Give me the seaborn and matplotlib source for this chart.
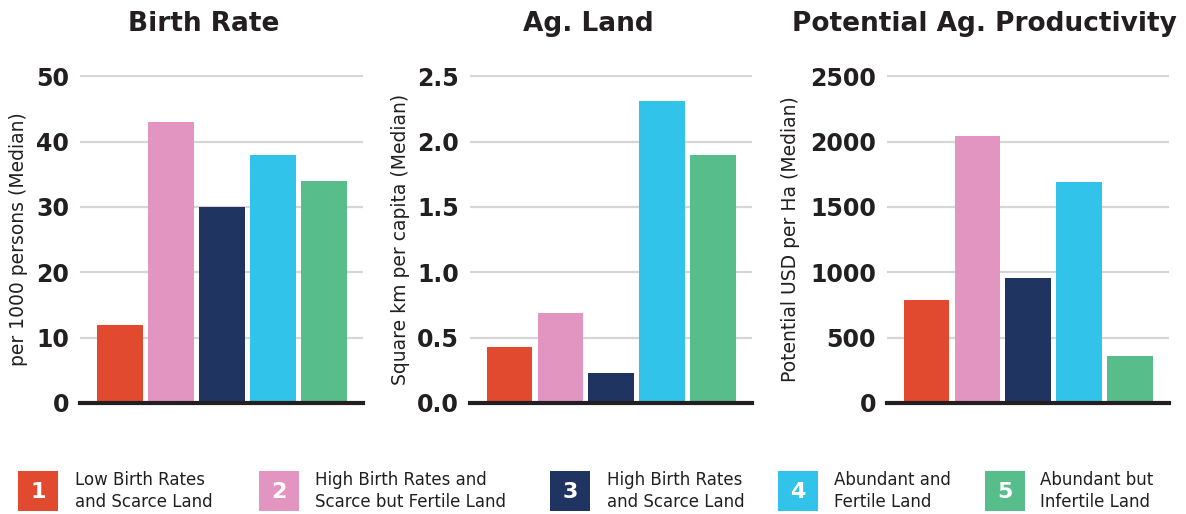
import matplotlib
matplotlib.use("Agg")
import matplotlib.pyplot as plt
import seaborn as sns
import pandas as pd
from matplotlib.patches import Rectangle

groups = ["1", "2", "3", "4", "5"]
group_labels = [
    "Low Birth Rates\nand Scarce Land",
    "High Birth Rates and\nScarce but Fertile Land",
    "High Birth Rates\nand Scarce Land",
    "Abundant and\nFertile Land",
    "Abundant but\nInfertile Land",
]
colors = ["#E14A2F", "#E295C1", "#1F3461", "#31C3EA", "#57BD8A"]

birth_rate = [12, 43, 30, 38, 34]
ag_land = [0.43, 0.69, 0.23, 2.31, 1.90]
ag_productivity = [785, 2045, 960, 1690, 360]

titles = ["Birth Rate", "Ag. Land", "Potential Ag. Productivity"]
ylabels = ["per 1000 persons (Median)", "Square km per capita (Median)",
           "Potential USD per Ha (Median)"]
yticks = [[0, 10, 20, 30, 40, 50],
          [0.0, 0.5, 1.0, 1.5, 2.0, 2.5],
          [0, 500, 1000, 1500, 2000, 2500]]
ytick_labels = [["0", "10", "20", "30", "40", "50"],
                ["0.0", "0.5", "1.0", "1.5", "2.0", "2.5"],
                ["0", "500", "1000", "1500", "2000", "2500"]]

sns.set_theme(style="white")
plt.rcParams['font.family'] = ['DejaVu Sans']
dark = "#231F20"

W, H = 1186, 514
fig = plt.figure(figsize=(W / 100, H / 100), dpi=100)

# axes boxes in pixels: left, right
boxes = [(80, 363), (470, 752), (887, 1169)]
top_px, bot_px = 75, 403
title_x = [204, 588, 984]
label_x = [28, 410, 800]

for i, values in enumerate([birth_rate, ag_land, ag_productivity]):
    l, r = boxes[i]
    ax = fig.add_axes([l / W, 1 - bot_px / H, (r - l) / W, (bot_px - top_px) / H])
    df = pd.DataFrame({"group": groups, "value": values})
    sns.barplot(data=df, x="group", y="value", hue="group", palette=colors,
                width=0.9, saturation=1, legend=False, ax=ax, zorder=3,
                linewidth=0, edgecolor="none")
    ymax = yticks[i][-1]
    ax.set_ylim(0, ymax * 1.004)
    ax.set_xlim(-0.78, 4.77)
    ax.set_yticks(yticks[i])
    ax.set_yticklabels(ytick_labels[i], fontsize=17, fontweight="bold", color=dark)
    ax.set_xticks([])
    ax.set_xlabel("")
    ax.set_ylabel(ylabels[i], fontsize=13.5, color=dark)
    ax.yaxis.set_label_coords((label_x[i] - l) / (r - l), 0.5)
    ax.tick_params(axis="y", length=0, pad=8)
    ax.grid(axis="y", color="#D6D6D6", linewidth=1.6, zorder=0)
    for s in ["top", "right", "left"]:
        ax.spines[s].set_visible(False)
    ax.spines["bottom"].set_color(dark)
    ax.spines["bottom"].set_linewidth(3)
    ax.spines["bottom"].set_zorder(5)
    fig.text(title_x[i] / W, 1 - 24 / H, titles[i], fontsize=19, fontweight="bold",
             color=dark, ha="center", va="center")

# legend
sq_x = [18, 259, 550, 778, 985]
txt_x = [75, 315, 607, 834, 1040]
for i in range(5):
    fig.patches.append(Rectangle((sq_x[i] / W, 1 - 511 / H), 40 / W, 40 / H,
                                 transform=fig.transFigure, facecolor=colors[i],
                                 edgecolor="none"))
    fig.text((sq_x[i] + 20) / W, 1 - 492 / H, groups[i], fontsize=16, fontweight="bold",
             color="white", ha="center", va="center")
    fig.text(txt_x[i] / W, 1 - 491 / H, group_labels[i], fontsize=12, color=dark,
             ha="left", va="center", linespacing=1.25)

fig.savefig("out.png", dpi=100, facecolor="white")
